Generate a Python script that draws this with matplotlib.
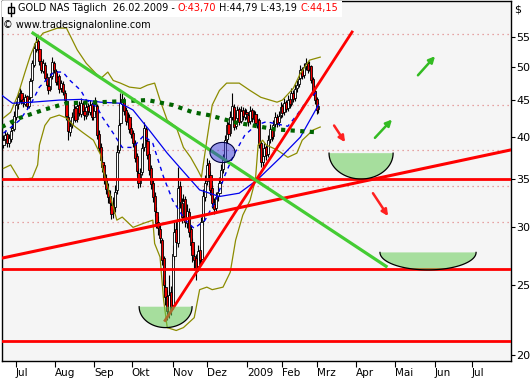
import matplotlib
matplotlib.use("Agg")
import matplotlib.pyplot as plt
import numpy as np
from matplotlib.patches import Ellipse, Polygon, Rectangle
from matplotlib.lines import Line2D
from matplotlib.ticker import NullLocator
from matplotlib.offsetbox import TextArea, HPacker, AnchoredOffsetbox

# daily candles, x = trading days counted from 1 Jul 2008
first_day = -7
opens = [39.0, 39.8, 40.4, 39.2, 39.8, 40.9, 41.0, 42.6,
         44.4, 45.2, 46.0, 45.1, 44.5, 45.6, 44.2, 45.4, 47.9, 50.4,
         53.0, 54.3, 52.9, 51.0, 49.4, 50.4, 48.4, 47.0, 46.6, 48.6,
         50.6, 49.4, 47.8, 48.6, 46.7, 47.4, 46.0, 44.9, 42.6, 40.6,
         41.6, 42.8, 43.9, 42.4, 44.3, 43.1, 44.5, 43.5, 42.8, 44.2,
         43.3, 44.4, 42.6, 43.5, 44.2, 40.4, 38.8, 37.0, 36.6, 35.1,
         33.8, 33.1, 32.2, 31.4, 32.0, 33.8, 38.4, 41.8, 44.4, 45.0,
         43.6, 42.0, 42.7, 41.2, 40.5, 39.2, 37.6, 35.7, 34.5, 35.8,
         38.8, 41.0, 39.5, 37.9, 36.2, 34.5, 33.2, 31.5, 30.5, 29.8,
         28.8, 27.2, 24.8, 24.1, 22.9, 24.4, 23.4, 27.4, 29.8, 28.5,
         34.2, 32.4, 31.1, 32.8, 30.4, 31.5, 29.8, 28.6, 27.4, 27.2,
         26.5, 27.9, 27.1, 30.6, 33.0, 34.8, 36.8, 35.5, 34.0, 32.3,
         31.9, 33.1, 33.5, 34.7, 36.1, 37.3, 39.8, 41.7, 40.5, 42.7,
         44.0, 41.4, 42.5, 43.7, 42.1, 43.6, 42.7, 43.3, 42.9, 42.1,
         43.6, 42.4, 43.1, 41.7, 42.3, 39.2, 36.9, 37.7, 38.7, 37.9,
         39.7, 41.1, 40.1, 41.7, 42.7, 41.9, 42.9, 44.1, 43.3, 44.7,
         43.9, 45.1, 44.5, 46.1, 45.3, 46.7, 47.3, 48.3, 49.7, 48.7,
         50.1, 50.7, 49.7, 50.1, 48.1, 46.3, 45.1, 43.70]
highs = [40.2, 40.9, 40.6, 40.4, 41.3, 42.0, 43.4, 44.9,
         46.2, 46.8, 46.4, 45.7, 45.9, 45.8, 45.8, 48.3, 51.2, 54.0,
         55.3, 54.6, 53.2, 51.4, 51.3, 50.8, 49.0, 47.5, 49.0, 51.6,
         51.0, 49.7, 49.1, 48.9, 48.0, 47.8, 46.4, 45.2, 43.0, 42.2,
         43.3, 44.6, 44.2, 44.9, 44.8, 45.3, 44.9, 43.9, 44.7, 44.6,
         45.0, 44.7, 44.3, 45.4, 44.5, 40.9, 39.3, 37.6, 37.0, 35.6,
         34.5, 33.8, 32.8, 33.0, 34.3, 39.0, 42.4, 46.1, 46.0, 45.4,
         44.0, 43.3, 43.0, 41.8, 40.9, 39.6, 38.0, 36.2, 36.3, 39.2,
         41.9, 41.4, 39.9, 38.3, 36.6, 34.9, 33.6, 32.0, 31.1, 30.4,
         29.0, 27.4, 25.4, 24.6, 25.8, 24.9, 28.4, 30.5, 30.6, 36.4,
         34.8, 32.9, 33.4, 33.2, 32.3, 31.9, 30.2, 29.0, 28.0, 27.6,
         28.4, 28.3, 31.0, 33.9, 35.4, 37.4, 37.2, 35.9, 34.3, 32.9,
         33.6, 34.2, 35.2, 36.7, 37.9, 40.3, 42.4, 42.0, 43.4, 46.0,
         44.4, 43.3, 44.2, 44.0, 44.1, 44.0, 43.9, 43.8, 43.3, 44.2,
         43.9, 43.6, 43.4, 43.0, 42.5, 39.5, 38.3, 39.3, 39.0, 40.2,
         41.7, 41.4, 42.3, 43.3, 43.0, 43.5, 44.7, 44.4, 45.3, 45.0,
         45.7, 45.6, 46.7, 46.5, 47.3, 48.0, 49.0, 50.3, 50.0, 50.7,
         51.4, 51.0, 50.9, 50.4, 48.4, 46.6, 45.4, 44.79]
lows = [38.6, 39.2, 38.8, 38.7, 39.4, 40.3, 40.8, 42.2,
        43.8, 44.7, 44.5, 44.0, 44.1, 43.7, 43.9, 45.1, 47.5, 50.0,
        52.4, 52.2, 50.4, 49.0, 49.0, 47.9, 46.8, 45.9, 46.3, 48.2,
        49.0, 47.2, 47.2, 46.1, 46.2, 45.7, 44.4, 42.3, 39.6, 40.1,
        41.2, 42.3, 41.9, 42.0, 42.8, 42.7, 43.0, 42.3, 42.4, 42.9,
        42.9, 42.2, 42.2, 43.0, 39.8, 38.1, 36.7, 35.8, 34.4, 33.4,
        32.4, 31.7, 30.8, 30.9, 31.5, 33.4, 38.0, 41.4, 43.6, 42.9,
        41.6, 41.5, 40.5, 39.9, 38.8, 36.9, 35.3, 34.0, 34.1, 35.4,
        38.3, 39.1, 37.3, 35.5, 33.9, 32.5, 31.1, 29.9, 29.3, 28.5,
        26.6, 24.4, 23.4, 22.3, 22.5, 22.7, 23.1, 27.0, 28.0, 28.2,
        31.9, 30.4, 30.7, 30.0, 29.9, 29.1, 27.9, 26.9, 26.2, 25.4,
        26.1, 26.5, 26.9, 30.2, 32.6, 34.3, 34.9, 33.3, 31.9, 31.3,
        31.5, 32.6, 33.1, 34.3, 35.7, 36.9, 39.3, 39.8, 40.1, 42.3,
        40.9, 41.0, 42.1, 41.6, 41.8, 42.3, 42.2, 42.4, 41.5, 41.7,
        42.0, 41.9, 41.3, 41.2, 38.6, 36.4, 36.2, 37.2, 37.2, 37.5,
        39.3, 39.5, 39.7, 41.3, 41.3, 41.5, 42.5, 42.7, 42.9, 43.3,
        43.5, 43.9, 44.1, 44.7, 44.9, 46.2, 46.9, 47.9, 48.1, 48.3,
        49.6, 49.1, 49.3, 47.5, 45.7, 44.5, 43.1, 43.19]
closes = [39.6, 40.3, 39.3, 39.9, 40.8, 41.2, 42.8, 44.3,
          45.4, 46.1, 45.0, 44.6, 45.4, 44.1, 45.2, 47.8, 50.6, 53.2,
          54.1, 52.8, 50.9, 49.6, 50.6, 48.3, 47.2, 46.4, 48.5, 50.8,
          49.5, 47.6, 48.4, 46.6, 47.5, 46.2, 45.0, 42.8, 40.8, 41.5,
          42.6, 43.8, 42.3, 44.2, 43.2, 44.6, 43.4, 42.9, 44.0, 43.4,
          44.3, 42.7, 43.6, 44.4, 40.2, 38.6, 37.2, 36.4, 34.9, 33.9,
          33.0, 32.4, 31.3, 32.2, 33.6, 38.2, 41.6, 44.6, 45.1, 43.4,
          42.1, 42.6, 41.0, 40.4, 39.3, 37.4, 35.9, 34.6, 35.6, 38.6,
          41.2, 39.6, 37.8, 36.0, 34.4, 33.0, 31.6, 30.4, 29.9, 29.0,
          27.0, 25.0, 24.0, 23.0, 24.2, 23.3, 27.6, 29.6, 28.6, 34.0,
          32.5, 31.0, 32.6, 30.5, 31.6, 29.6, 28.4, 27.5, 27.0, 26.4,
          27.8, 27.0, 30.5, 33.2, 34.6, 36.6, 35.4, 33.8, 32.4, 31.8,
          33.0, 33.6, 34.6, 36.0, 37.2, 39.6, 41.6, 40.4, 42.6, 44.2,
          41.3, 42.6, 43.6, 42.0, 43.5, 42.8, 43.2, 43.0, 42.0, 43.5,
          42.5, 43.0, 41.8, 42.4, 39.0, 37.0, 37.6, 38.6, 37.8, 39.6,
          41.0, 40.0, 41.6, 42.6, 41.8, 42.8, 44.0, 43.2, 44.6, 43.8,
          45.0, 44.4, 46.0, 45.2, 46.6, 47.2, 48.2, 49.6, 48.6, 50.0,
          50.6, 49.6, 50.2, 48.0, 46.2, 45.0, 43.6, 44.15]

# indicator lines (day, price)
bb_up_x = [-7, -3, 1, 5, 8, 11, 15, 23, 28, 34, 39, 47, 51, 54, 58, 63, 69, 73, 77, 80,
           84, 89, 93, 97, 101, 103, 106, 109, 113, 117, 124, 130, 136, 145, 148, 154, 158, 163, 169]
bb_up_y = [42.5, 43.3, 45.7, 49.2, 51.9, 54.1, 55.7, 56.6, 56.6, 52.8, 50.6, 48.2, 49.2, 47.9, 47.5,
           46.9, 46.7, 47.2, 47.5, 45.0, 42.2, 41.3, 38.7, 37.5, 36.0, 35.2, 39.6, 44.3, 46.4, 47.5,
           47.5, 46.4, 45.4, 44.7, 45.0, 46.7, 49.0, 51.1, 51.6]
bb_lo_x = [-7, -3, 2, 9, 12, 13, 16, 19, 24, 28, 32, 37, 43, 47, 48, 51, 54, 56, 59, 65, 71, 76,
           77, 80, 82, 84, 89, 93, 99, 102, 106, 109, 115, 119, 122, 126, 130, 133, 134.5, 137,
           139, 145, 151, 156, 159, 165, 169]
bb_lo_y = [36.2, 36.6, 34.9, 35.1, 36.6, 39.0, 41.5, 42.5, 42.9, 42.5, 41.5, 40.6, 39.6, 37.8, 36.3,
           34.1, 32.0, 30.7, 31.0, 30.0, 30.4, 30.7, 28.5, 27.3, 23.8, 21.8, 21.6, 21.8, 22.5, 24.6,
           24.8, 24.6, 24.8, 26.0, 28.8, 31.2, 32.7, 34.9, 39.0, 39.6, 39.0, 38.4, 37.5, 38.0, 39.6,
           40.9, 41.3]
ma20_x = [-7, 2, 8, 13, 21, 26, 30, 36, 39, 45, 48, 54, 59, 65, 71, 76, 82, 87, 94, 99, 105,
          111, 116, 121, 127, 133, 139, 145, 151, 156, 162, 168]
ma20_y = [40.5, 42.2, 44.3, 46.9, 49.2, 49.2, 47.9, 46.4, 45.0, 44.0, 42.6, 40.5, 38.7, 38.7, 40.2,
          39.2, 35.2, 32.7, 30.7, 29.9, 30.7, 32.7, 35.4, 37.8, 40.2, 41.5, 42.0, 41.7, 41.4, 42.9,
          45.0, 46.4]
ma50_x = [-8, -2, 9, 24, 36, 47, 58, 65, 74, 84, 91, 102, 113, 124, 134, 147, 158, 168]
ma50_y = [45.7, 44.55, 44.7, 45.0, 45.1, 44.7, 44.55, 43.6, 40.9, 38.0, 36.3, 33.8, 33.1, 33.45,
          34.9, 37.5, 40.0, 44.3]
ma200_x = [-8, 2, 15, 28, 47, 73, 87, 98, 107, 122, 144, 168]
ma200_y = [41.3, 42.5, 43.6, 44.55, 44.7, 45.0, 44.3, 43.3, 42.9, 41.9, 41.0, 40.6]

# drawn analysis objects
fib_levels = [55.6, 44.3, 38.4, 34.2, 30.5, 26.3, 20.9]
support_levels = [35.0, 26.3, 20.9]
green_trend = ([9.4, 205.6], [55.7, 26.5])
red_steep = ([82.8, 186.7], [22.3, 55.9])
red_flat = ([-7.8, 275], [27.2, 38.4])
# bowls: centre day, half width (days), top price, bottom price
bowls = [(83.1, 14.7, 23.3, 21.8), (191.7, 17.8, 38.0, 35.0), (228.9, 26.7, 27.7, 26.2)]
# arrows: tail, head, colour
arrows = [((176.7, 41.5), (182.8, 39.35), 'red'),
          ((198.3, 33.45), (206.7, 31.1), 'red'),
          ((199.4, 39.9), (208.9, 42.3), 'green'),
          ((223.3, 48.7), (232.8, 51.75), 'green')]

month_pos = [0, 21.7, 43.5, 64.3, 87.1, 106.3, 128.2, 147.6, 167.1, 188.9, 210.6, 232.8, 253.2]
month_labels = ['Jul', 'Aug', 'Sep', 'Okt', 'Nov', 'Dez', '2009', 'Feb', 'Mrz', 'Apr', 'Mai', 'Jun', 'Jul']
price_ticks = [20, 25, 30, 35, 40, 45, 50, 55]

W, H = 532, 380
fig = plt.figure(figsize=(W / 100, H / 100), dpi=100)
ax = fig.add_axes([2 / W, 19 / H, 509 / W, 360 / H])
ax.set_facecolor('#f5f5f5')
ax.set_yscale('log')
ax.set_xlim(-7.8, 275)
ax.set_ylim(19.6, 61.7)

o = np.array(opens)
h = np.array(highs)
l = np.array(lows)
c = np.array(closes)
x = np.arange(first_day, first_day + len(c))
up = c >= o

for lev in fib_levels:
    ax.axhline(lev, color='#e08888', lw=0.9, ls=(0, (1, 3)), zorder=1)

ax.vlines(x, l, h, color='black', lw=0.8, zorder=2)
ax.bar(x[up], (c - o)[up], bottom=o[up], width=1.2, color='white', edgecolor='black', lw=0.6, zorder=2)
ax.bar(x[~up], (o - c)[~up], bottom=c[~up], width=1.2, color='#ee0000', edgecolor='black', lw=0.6, zorder=2)

ax.plot(bb_up_x, bb_up_y, color='#8c8c00', lw=0.9, zorder=3)
ax.plot(bb_lo_x, bb_lo_y, color='#8c8c00', lw=0.9, zorder=3)
ax.plot(ma50_x, ma50_y, color='#0000ee', lw=0.9, zorder=3)
ax.plot(ma20_x, ma20_y, color='#0000ee', lw=1.0, ls=(0, (3, 3)), zorder=3)
ax.plot(ma200_x, ma200_y, color='#006400', lw=3, ls=(0, (1, 1.3)), zorder=3)

for lev in support_levels:
    ax.axhline(lev, color='#ff0000', lw=2, zorder=4)
ax.plot(*red_flat, color='#ff0000', lw=2.2, zorder=4)
ax.plot(*red_steep, color='#ff0000', lw=2, zorder=4)
ax.plot(*green_trend, color='#44cc33', lw=2.3, zorder=4)

ax.add_patch(Ellipse((114.7, 38.1), 13.9, 2.45, facecolor='#3838dd', alpha=0.5,
                     edgecolor='none', zorder=5))
ax.add_patch(Ellipse((114.7, 38.1), 13.9, 2.45, facecolor='none', edgecolor='#000040',
                     lw=0.8, zorder=5))

for cx, hw, top, bot in bowls:
    t = np.linspace(0, np.pi, 60)
    bx = cx + hw * np.cos(t)
    by = np.exp(np.log(top) - (np.log(top) - np.log(bot)) * np.sin(t))
    ax.add_patch(Polygon(np.column_stack([bx, by]), closed=True, facecolor='#66cc55',
                         alpha=0.55, edgecolor='none', zorder=5))
    ax.plot(bx, by, color='black', lw=0.9, zorder=5)

for tail, head, col in arrows:
    colr = '#ff2020' if col == 'red' else '#33bb22'
    ax.annotate('', xy=head, xytext=tail,
                arrowprops=dict(arrowstyle='-|>', color=colr, lw=1.8, mutation_scale=9,
                                shrinkA=0, shrinkB=0), zorder=6)

ax.yaxis.tick_right()
ax.set_yticks(price_ticks)
ax.set_yticklabels([str(v) for v in price_ticks])
ax.yaxis.set_minor_locator(NullLocator())
ax.tick_params(axis='y', which='both', direction='out', length=3, width=0.8, pad=1,
               labelsize=8, left=False, right=True)
ax.set_xticks(month_pos)
ax.set_xticklabels(month_labels, ha='left')
ax.tick_params(axis='x', direction='out', length=4, width=0.8, pad=1, labelsize=7.5)
for s in ax.spines.values():
    s.set_color('black')
    s.set_linewidth(1)


def fp(px, py):
    return px / W, 1 - py / H


# title box
ax.add_patch(Rectangle((0, (361 - 17) / 360), (342 - 2) / 509, 17 / 360, transform=ax.transAxes,
                       facecolor='white', edgecolor='none', zorder=7))
fig.add_artist(Line2D([fp(11, 0)[0]] * 2, [fp(0, 3)[1], fp(0, 16)[1]], color='black', lw=1))
fig.add_artist(Rectangle(fp(8, 13), 6 / W, 6 / H, facecolor='white', edgecolor='black', lw=1,
                         transform=fig.transFigure))

parts = [('GOLD NAS Täglich  26.02.2009 -', 'black'), ('O:43,70', 'red'),
         ('H:44,79 L:43,19', 'black'), ('C:44,15', 'red')]
title = HPacker(children=[TextArea(s, textprops=dict(color=col, fontsize=7)) for s, col in parts],
                align='baseline', pad=0, sep=2.2)
ab = AnchoredOffsetbox(loc='upper left', child=title, pad=0, borderpad=0, frameon=False,
                       bbox_to_anchor=fp(18, 3), bbox_transform=fig.transFigure)
ab.set_zorder(8)
ax.add_artist(ab)
fig.text(*fp(3, 25), '© www.tradesignalonline.com', fontsize=7, va='center', ha='left', zorder=8)
fig.text(*fp(514, 10), '$', fontsize=8, va='center', ha='left')

fig.savefig('out.png', dpi=100)
